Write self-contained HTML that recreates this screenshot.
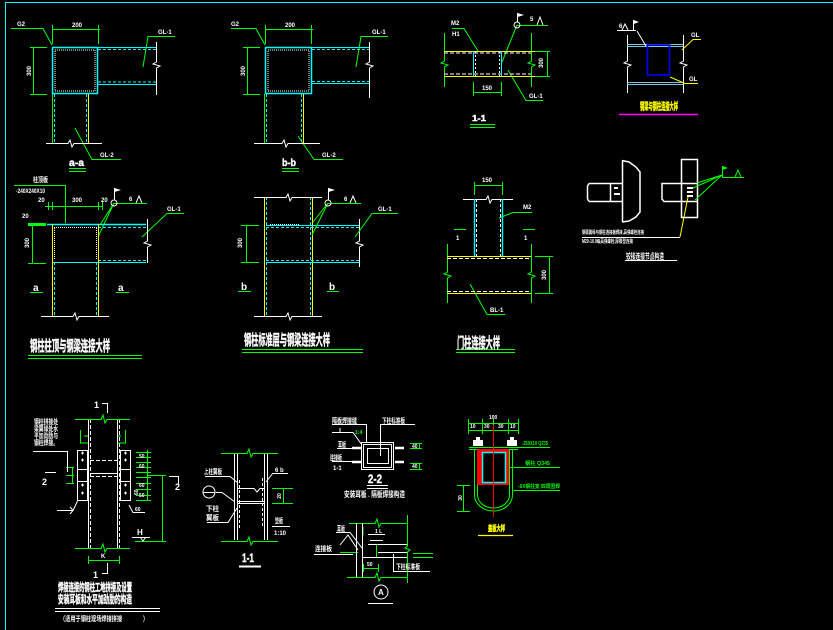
<!DOCTYPE html>
<html><head><meta charset="utf-8"><style>
html,body{margin:0;padding:0;background:#000;width:833px;height:630px;overflow:hidden}
svg{display:block}
text{font-family:"Liberation Sans","Noto Sans CJK SC",sans-serif;fill:#fff;font-weight:bold}
.g{fill:#0f0}.y{fill:#ff0}
.tt{stroke:#fff;stroke-width:0.4}
.y.tt{stroke:#ff0}
</style></head><body>
<svg width="833" height="630" viewBox="0 0 833 630" xmlns="http://www.w3.org/2000/svg">
<rect width="833" height="630" fill="#000"/>
<g fill="none" stroke-width="1">
<!-- frame -->
<path d="M5 2.5H833M5.5 2V630" stroke="#0ff"/>

<!-- ===== a-a ===== -->
<g stroke="#0f0">
<path d="M11 28.5H43L52 45"/>
<path d="M52 29.5H100M52.5 25V44M98.5 25V44"/>
<path d="M33.5 47V94M30 47.5H47M30 94.5H47"/>
<path d="M52.5 94V143"/>
<path d="M75 128L92 159.5H121"/>
<path d="M143 67L148 36.5H175"/>
<path d="M69 168.5H86M69 171.5H86"/>
</g>
<rect x="52.5" y="47.5" width="45" height="46" stroke="#0ff" stroke-width="1.5"/>
<path d="M98 47.5H156M98 84.5H156" stroke="#0ff"/>
<path d="M98 49.5H156M98 82H156M54.5 94V143M86.5 94V143" stroke="#0ff" stroke-dasharray="3 2"/>
<rect x="55" y="50" width="40" height="41" stroke="#fff" stroke-dasharray="1 1"/>
<path d="M88.5 94V143" stroke="#ff0"/>
<path d="M156.5 42V62L153 64L160 66L156.5 68V95" stroke="#fff"/>
<path d="M46 143.5H68L70 140L72 147L74 143.5H102" stroke="#fff"/>

<!-- ===== b-b ===== -->
<g stroke="#0f0">
<path d="M231 28.5H256L265 45"/>
<path d="M265 29.5H313M265.5 25V44M311.5 25V44"/>
<path d="M247.5 47V94M243 47.5H260M243 94.5H260"/>
<path d="M264.5 94V143"/>
<path d="M298 136L314 159.5H343"/>
<path d="M356 67L361 36.5H388"/>
<path d="M282 168.5H299M282 171.5H299"/>
</g>
<rect x="265.5" y="47.5" width="46" height="46" stroke="#0ff" stroke-width="1.5"/>
<path d="M312 47.5H369M312 83.5H369" stroke="#0ff"/>
<path d="M312 49.5H369M312 81.5H369M266.5 94V143M301.5 94V143" stroke="#0ff" stroke-dasharray="3 2"/>
<rect x="268" y="50" width="41" height="41" stroke="#fff" stroke-dasharray="1 1"/>
<path d="M303.5 94V143" stroke="#ff0"/>
<path d="M369.5 42V62L366 64L373 66L369.5 68V98" stroke="#fff"/>
<path d="M254 143.5H282L284 140L286 147L288 143.5H320" stroke="#fff"/>

<!-- ===== 1-1 top ===== -->
<g stroke="#0f0">
<path d="M444.5 33V61L441 63L448 65L444.5 67V87"/>
<path d="M531.5 33V61L528 63L535 65L531.5 67V87"/>
<path d="M547.5 51V76M531 51.5H550M531 76.5H550"/>
<path d="M473 92.5H501M473.5 82V96M501.5 82V96"/>
<path d="M452 28.5H464L478 51"/>
<path d="M517 25.5H548M517 25L502 62"/>
<path d="M508 70L526 100.5H543"/>
<path d="M470 124.5H495M470 127.5H495"/>
</g>
<path d="M444 51.5H535M444 76.5H535" stroke="#ff0"/>
<path d="M444 53H531M444 74H531" stroke="#fff" stroke-dasharray="4 2"/>
<path d="M473.5 51V76M501.5 51V76" stroke="#0ff"/>
<path d="M475.5 51V76M499.5 51V76" stroke="#fff" stroke-dasharray="2 2"/>
<circle cx="517" cy="25" r="3" stroke="#fff"/>
<path d="M517.5 22V13M537 25L540 17L543 25" stroke="#fff"/>
<path d="M517.5 13L524 15L517.5 17Z" fill="#fff" stroke="none"/>

<!-- ===== top right detail ===== -->
<path d="M627.5 35V61L624 63L631 65L627.5 67V93M683.5 35V61L680 63L687 65L683.5 67V93" stroke="#fff"/>
<path d="M627 44.5H683M627 46.5H683M627 82.5H683M627 84.5H683" stroke="#7ec8e3"/>
<rect x="647.5" y="45" width="22" height="30" stroke="#0000ff" stroke-width="1.6"/>
<path d="M617 30.5H636M633.5 30V20M622 30L625 24L628 30M637 31L646 46" stroke="#fff"/>
<path d="M633.5 20L639 22L633.5 24Z" fill="#fff" stroke="none"/>
<path d="M682 50L693 39.5H701M670 77L685 83.5H698" stroke="#ff0"/>
<path d="M619 114.5H698" stroke="#f0f" stroke-width="1.5"/>

<!-- ===== column-plate detail ===== -->
<g stroke="#fff" stroke-width="1.5">
<path d="M589 183.5H622M589 201.5H622M587.5 186V199M589 183.5L587.5 186M589 201.5L587.5 199M610.5 183V202"/>
<path d="M622.5 160V222M622 160.5L629 162L636 167L640 172V212L636 217L629 221L622 222"/>
<rect x="681.5" y="159.5" width="16" height="58"/>
<path d="M681 183.5H662V199L664 201.5H681M681 183.5H698M681 201.5H698"/>
</g>
<path d="M687 188H693M687 192H693M687 196H693M614 188H618M614 194H620" stroke="#fff" stroke-width="2"/>
<g stroke="#0f0">
<path d="M722 175L697 183M722 175L693 188M722 175L695 200"/>
<path d="M722 177.5H744M722.5 177V166M735 177L738 170L741 177"/>
</g>
<path d="M722.5 166L728 168L722.5 170Z" fill="#0f0" stroke="none"/>
<path d="M688 197L680 237" stroke="#ff0"/>
<path d="M582 237.5H680M625 260.5H677" stroke="#fff"/>

<!-- ===== left middle (柱顶) ===== -->
<g stroke="#0f0">
<path d="M14 185.5H65.5V223"/>
<path d="M28 224.5H46" stroke-width="3"/>
<path d="M45 206.5H102M48.5 202V210M52.5 202V210M98.5 202V210M102.5 202V210"/>
<path d="M114 203.5H147M114 203L100 225M114 203L98 237"/>
<path d="M32.5 224V263M28 263.5H46"/>
<path d="M30 292.5H43M116 292.5H129"/>
<path d="M142 237L167 213.5H184"/>
<path d="M28 355.5H142M28 358.5H142"/>
</g>
<path d="M47 224.5H146" stroke="#0ff" stroke-width="1.6"/>
<path d="M98 227.5H146M98 260.5H146M54.5 262V316M96.5 262V316" stroke="#0ff" stroke-dasharray="3 2"/>
<path d="M52 262.5H146" stroke="#0ff"/>
<path d="M54 227.5H97M54.5 228V260M96.5 228V260" stroke="#fff" stroke-dasharray="1 1"/>
<path d="M52.5 224V316M98.5 224V316" stroke="#ff0"/>
<path d="M147.5 219V241L144 243L151 245L147.5 247V263" stroke="#fff"/>
<path d="M41 316.5H73L75 313L77 320L79 316.5H109" stroke="#fff"/>
<circle cx="114" cy="203" r="3" stroke="#fff"/>
<path d="M114.5 200V188M136 203L139 196L142 203" stroke="#fff"/>
<path d="M114.5 188L121 190L114.5 192Z" fill="#fff" stroke="none"/>

<!-- ===== middle (标准层) ===== -->
<path d="M264.5 197V316M312.5 197V316" stroke="#ff0"/>
<path d="M266.5 197V316M310.5 197V316" stroke="#0ff" stroke-dasharray="3 2"/>
<path d="M254 197.5H286L288 194L290 201L292 197.5H322M254 316.5H286L288 313L290 320L292 316.5H322" stroke="#fff"/>
<path d="M266 225.5H359M266 262.5H359" stroke="#0ff"/>
<path d="M266 227.5H359M266 260.5H359" stroke="#0ff" stroke-dasharray="3 2"/>
<path d="M270 224.5H300" stroke="#fff" stroke-dasharray="1 1"/>
<path d="M359.5 219V241L356 243L363 245L359.5 247V267" stroke="#fff"/>
<g stroke="#0f0">
<path d="M246.5 225V262M241 225.5H259M241 262.5H259"/>
<path d="M328 203.5H361M328 203L313 222M328 203L312 235"/>
<path d="M355 237L372 213.5H398"/>
<path d="M238 291.5H251M327 291.5H339"/>
<path d="M242 349.5H363M242 352.5H363"/>
</g>
<circle cx="328" cy="203" r="3" stroke="#fff"/>
<path d="M328.5 200V188M350 203L353 196L356 203" stroke="#fff"/>
<path d="M328.5 188L335 190L328.5 192Z" fill="#fff" stroke="none"/>

<!-- ===== 门柱 ===== -->
<g stroke="#0f0">
<path d="M474 185.5H502M474.5 182V195M502.5 182V195"/>
<path d="M499 218L513 212.5H532"/>
<path d="M454 229.5H466M523 229.5H535"/>
<path d="M447.5 244V272L444 274L451 276L447.5 278V303M531.5 244V272L528 274L535 276L531.5 278V303"/>
<path d="M549.5 256V293M535 256.5H553M535 293.5H553"/>
<path d="M470 284L487 314.5H505"/>
<path d="M456 349.5H515M456 352.5H515"/>
</g>
<path d="M463 199.5H486L488 196L490 203L492 199.5H513" stroke="#fff"/>
<path d="M474.5 199V256M502.5 199V256" stroke="#0ff" stroke-width="1.4"/>
<path d="M476.5 199V256M500.5 199V256" stroke="#fff" stroke-dasharray="3 2"/>
<path d="M447 256.5H531M447 293.5H531" stroke="#ff0"/>
<path d="M447 258.5H531M447 291.5H531" stroke="#fff" stroke-dasharray="4 2"/>

<!-- ===== bottom-left splice ===== -->
<path d="M88.5 419V548M117.5 419V548" stroke="#fff"/>
<path d="M90.5 419V548M119.5 419V548" stroke="#fff" stroke-dasharray="4 2"/>
<g stroke="#0f0">
<path d="M75 419.5H101L103 415L105 423L107 419.5H130M75 548.5H101L103 544L105 552L107 548.5H130"/>
<path d="M80.5 430V443H88M84 436H88M125.5 430V443H118M121 436H118"/>
<path d="M147.5 450V500"/>
<path d="M136 452.5H151M136 457.5H151M136 462.5H151M136 467.5H151M136 472.5H151M136 477.5H151M136 483.5H151M136 489.5H151M136 495.5H151M136 500.5H151"/>
<path d="M162.5 475V541M147 475.5H166M135 541.5H166"/>
<path d="M66 467.5H74M66 475.5H74M66 483.5H74M72.5 467V484"/>
<path d="M88 560.5H119M88.5 556V564M119.5 556V564"/>
</g>
<rect x="77.5" y="450.5" width="10" height="50" stroke="#fff"/>
<rect x="120.5" y="450.5" width="10" height="50" stroke="#fff"/>
<path d="M77 469.5H88M77 481.5H88M120 469.5H131M120 481.5H131" stroke="#fff"/>
<path d="M81 453H84M82.5 451.5V454.5M81 460H84M82.5 458.5V461.5M81 485H84M82.5 483.5V486.5M81 493H84M82.5 491.5V494.5M124 453H127M125.5 451.5V454.5M124 460H127M125.5 458.5V461.5M124 485H127M125.5 483.5V486.5M124 493H127M125.5 491.5V494.5" stroke="#fff"/>
<path d="M90 460.5H117M90 476.5H117" stroke="#fff" stroke-dasharray="4 2"/>
<path d="M90 473.5H117" stroke="#fff"/>
<path d="M102 403.5H107.5V413M107.5 563V573.5H102" stroke="#fff"/>
<path d="M33 451.5H67.5V472M45 472.5H56M169 476.5H178.5V485" stroke="#fff"/>
<path d="M132 537.5H150M140 537L143 541L146 537" stroke="#fff"/>
<path d="M57 510.5H73L78 500M70 507L73 510.5L70 514" stroke="#fff"/>
<path d="M129 505L133 512.5H145" stroke="#fff"/>
<path d="M55 608.5H160M55 611.5H160" stroke="#fff"/>

<!-- ===== 1-1 bottom ===== -->
<path d="M234.5 453V540M237.5 453V540M264.5 453V540M267.5 453V540" stroke="#fff"/>
<path d="M239.5 480V530M262.5 478V528" stroke="#fff" stroke-dasharray="3 2"/>
<path d="M221 453.5H247L249 449L251 457L253 453.5H278M221 541.5H247L249 537L251 545L253 541.5H278" stroke="#0f0"/>
<path d="M237 488.5H254L257 492L260 488.5H265M237 501.5H265M237 503.5H265" stroke="#fff"/>
<path d="M205 476.5H230L238 483M216 492.5H222L235 502M207 522.5H228L237 508M273 473.5H288M273 473L266 482M272 526.5H290" stroke="#fff"/>
<circle cx="209" cy="492" r="6" stroke="#fff"/>
<path d="M203 492.5H215" stroke="#fff"/>
<path d="M272 488.5H293M272 503.5H293M283.5 488V504" stroke="#0f0"/>
<path d="M239 566.5H261" stroke="#fff" stroke-width="2"/>

<!-- ===== 2-2 ===== -->
<rect x="361.5" y="442.5" width="32" height="27" stroke="#fff"/>
<rect x="363.5" y="444.5" width="28" height="23" stroke="#fff"/>
<rect x="367.5" y="448.5" width="21" height="15" stroke="#fff"/>
<path d="M332 424.5H366.5V442M380 424.5H415M380.5 424V456" stroke="#fff"/>
<path d="M332 432.5H353L362 445M340 432V428" stroke="#fff"/>
<path d="M352 448H361M352 462H361M395 448H404M395 462H404" stroke="#fff" stroke-width="2.5"/>
<path d="M337 448.5H352M332 461.5H352" stroke="#fff"/>
<path d="M410 443.5H422M410 448.5H422M419.5 443V449M410 463.5H422M410 469.5H422M419.5 463V470" stroke="#0f0"/>
<path d="M367 485.5H388M367 488.5H388" stroke="#fff"/>

<!-- ===== A detail ===== -->
<g stroke="#0f0">
<path d="M407.5 515V546L405 548L410 550L407.5 552V583"/>
<path d="M349 523.5H375L377 519L379 527L381 523.5H407M347 577.5H375L377 573L379 581L381 577.5H407"/>
<path d="M376.5 544V557M368 544.5H376"/>
<path d="M363 568.5H378M363.5 564V572M378.5 564V572"/>
<path d="M413 553.5H433M413 557.5H433M340 552.5H358"/>
<path d="M363 527V535"/>
</g>
<path d="M356.5 523V577M362.5 523V577" stroke="#fff"/>
<path d="M368 544.5H407M378 552.5H407M362 557.5H407M393.5 554V571.5H430" stroke="#fff"/>
<path d="M368 534.5H385M370 540.5H383M336 532.5H350L362 548M340 545L348 535L358 550M314 554.5H353" stroke="#fff"/>
<circle cx="381" cy="592" r="7" stroke="#fff"/>
<path d="M368 603.5H393" stroke="#fff"/>

<!-- ===== 盖板 ===== -->
<g stroke="#0f0">
<path d="M468 423.5H519M468 430.5H519M468.5 419V434M482.5 419V434M493.5 419V434M508.5 419V434M518.5 419V434"/>
<path d="M469 447.5H518M469 449.5H518"/>
<path d="M474.5 449V495A19 16 0 0 0 512.5 495V449"/>
<path d="M477.5 449V495A16 13 0 0 0 509.5 495V449"/>
<path d="M463.5 485V512M457 485.5H470M457 511.5H470"/>
<path d="M518 447.5H550M510 467.5H560M513 490.5H560"/>
</g>
<rect x="477" y="449" width="32" height="36" fill="#f00" stroke="none"/>
<rect x="482.5" y="452.5" width="23" height="30" fill="#000" stroke="#0ff" stroke-width="1.5"/>
<path d="M493.5 425V517" stroke="#f00"/>
<path d="M473 446V440H476V437H480V440H483V446ZM507 446V440H510V437H514V440H517V446Z" fill="#fff" stroke="none"/>
<path d="M478 535.5H513" stroke="#ff0" stroke-width="1.3"/>
</g>

<!-- ===== TEXT ===== -->
<g font-size="6">
<text x="17" y="26">G2</text><text x="72" y="27">200</text>
<text transform="translate(31,71) rotate(-90)" text-anchor="middle">300</text>
<text x="100" y="157">GL-2</text><text x="158" y="34">GL-1</text>
<text x="231" y="26">G2</text><text x="285" y="27">200</text>
<text transform="translate(245,71) rotate(-90)" text-anchor="middle">300</text>
<text x="322" y="157">GL-2</text><text x="372" y="34">GL-1</text>
<text x="451" y="25">M2</text><text x="452" y="36">H1</text>
<text x="530" y="21">5</text>
<text transform="translate(543,63) rotate(-90)" text-anchor="middle">300</text>
<text x="482" y="90">150</text><text x="529" y="98">GL-1</text>
<text x="619" y="28">6</text>
<text x="691" y="37">GL</text><text x="689" y="81">GL</text>
<text x="33" y="182" font-size="7" textLength="15" lengthAdjust="spacingAndGlyphs">柱顶板</text>
<text x="16" y="193" textLength="29" lengthAdjust="spacingAndGlyphs">-240X240X10</text>
<text x="22" y="218">20</text><text x="38" y="202">20</text><text x="72" y="202">300</text><text x="101" y="202">20</text>
<text x="129" y="201">6</text><text x="167" y="211">GL-1</text>
<text transform="translate(29,243) rotate(-90)" text-anchor="middle">300</text>
<text transform="translate(242,243) rotate(-90)" text-anchor="middle">300</text>
<text x="344" y="201">6</text><text x="378" y="211">GL-1</text>
<text x="482" y="182">150</text><text x="523" y="209">M2</text>
<text x="456" y="240">1</text><text x="524" y="240">1</text>
<text transform="translate(546,275) rotate(-90)" text-anchor="middle">300</text>
<text x="490" y="312">BL-1</text>
</g>
<text x="33" y="291" font-size="10">a</text><text x="118" y="291" font-size="10">a</text>
<text x="241" y="290" font-size="10">b</text><text x="329" y="290" font-size="10">b</text>
<text class="tt" x="69" y="166" font-size="10" textLength="15" lengthAdjust="spacingAndGlyphs">a-a</text>
<text class="tt" x="282" y="166" font-size="10" textLength="14" lengthAdjust="spacingAndGlyphs">b-b</text>
<text class="tt" x="472" y="121" font-size="8" textLength="14" lengthAdjust="spacingAndGlyphs">1-1</text>
<text class="y tt" x="640" y="110" font-size="10" textLength="38" lengthAdjust="spacingAndGlyphs">钢梁与钢柱连接大样</text>
<text x="582" y="234" font-size="5" textLength="62" lengthAdjust="spacingAndGlyphs">钢梁翼缘与钢柱连接板焊接,高强螺栓连接</text>
<text x="582" y="243" font-size="5" textLength="51" lengthAdjust="spacingAndGlyphs">M20-10.9级高强螺栓,摩擦型连接</text>
<text x="626" y="259" font-size="8" textLength="38" lengthAdjust="spacingAndGlyphs">铰接连接节点构造</text>
<text class="tt" x="30" y="351" font-size="15" textLength="80" lengthAdjust="spacingAndGlyphs">钢柱柱顶与钢梁连接大样</text>
<text class="tt" x="244" y="345" font-size="15" textLength="86" lengthAdjust="spacingAndGlyphs">钢柱标准层与钢梁连接大样</text>
<text class="tt" x="457" y="348" font-size="15" textLength="43" lengthAdjust="spacingAndGlyphs">门柱连接大样</text>

<g font-size="7">
<text x="34" y="424" textLength="24" lengthAdjust="spacingAndGlyphs">钢柱拼接处</text>
<text x="34" y="431" textLength="24" lengthAdjust="spacingAndGlyphs">梁翼缘处水</text>
<text x="34" y="438" textLength="24" lengthAdjust="spacingAndGlyphs">平加劲肋与</text>
<text x="34" y="445" textLength="24" lengthAdjust="spacingAndGlyphs">钢柱焊接。</text>
<text x="94" y="408" font-size="9">1</text><text x="93" y="578" font-size="9">1</text>
<text x="42" y="485" font-size="9">2</text><text x="175" y="490" font-size="9">2</text>
<text x="137" y="535" font-size="8">H</text><text x="101" y="558" font-size="6">K</text>
<text x="135" y="511" font-size="5">60</text>
<text x="139" y="458" font-size="5">50</text><text x="139" y="468" font-size="5">60</text><text x="139" y="487" font-size="5">60</text><text x="139" y="497" font-size="5">50</text>
<text transform="translate(138,495) rotate(-90)" font-size="5">60</text>
<text class="tt" x="58" y="591" font-size="11" textLength="74" lengthAdjust="spacingAndGlyphs">焊接连接的钢柱工地拼接及设置</text>
<text class="tt" x="58" y="603" font-size="11" textLength="74" lengthAdjust="spacingAndGlyphs">安装耳板和水平加劲肋的构造</text>
<text x="60" y="621" font-size="7" textLength="88" lengthAdjust="spacingAndGlyphs">（适用于钢柱现场焊接拼接　　　　）</text>

<text x="204" y="474" textLength="18" lengthAdjust="spacingAndGlyphs">上柱翼板</text>
<text x="206" y="511" textLength="13" lengthAdjust="spacingAndGlyphs">下柱</text>
<text x="206" y="520" textLength="13" lengthAdjust="spacingAndGlyphs">翼板</text>
<text x="275" y="472" font-size="6">6 b</text>
<text transform="translate(281,496) rotate(-90)" text-anchor="middle" font-size="5">20</text>
<text x="275" y="523" textLength="8" lengthAdjust="spacingAndGlyphs">垫板</text>
<text x="274" y="535" font-size="6">1:10</text>
<text class="tt" x="242" y="562" font-size="12" textLength="12" lengthAdjust="spacingAndGlyphs">1-1</text>

<text x="332" y="423" textLength="25" lengthAdjust="spacingAndGlyphs">隔板焊接缝</text>
<text x="382" y="423" textLength="23" lengthAdjust="spacingAndGlyphs">下柱标准板</text>
<text class="g" x="355" y="434" font-size="5">1:4</text>
<text x="338" y="447" textLength="8" lengthAdjust="spacingAndGlyphs">耳板</text>
<text x="330" y="460" textLength="12" lengthAdjust="spacingAndGlyphs">连接板</text>
<text x="333" y="470" font-size="6">1-1</text>
<text x="412" y="448" font-size="5">40</text><text x="412" y="468" font-size="5">40</text>
<text class="tt" x="368" y="483" font-size="12" textLength="14" lengthAdjust="spacingAndGlyphs">2-2</text>
<text x="344" y="497" font-size="8" textLength="61" lengthAdjust="spacingAndGlyphs">安装耳板 . 隔板焊接构造</text>

<text x="337" y="531" textLength="8" lengthAdjust="spacingAndGlyphs">耳板</text>
<text x="315" y="551" textLength="17" lengthAdjust="spacingAndGlyphs">连接板</text>
<text x="375" y="533" font-size="5">1 L</text>
<text x="367" y="566" font-size="5">50</text>
<text x="396" y="569" textLength="24" lengthAdjust="spacingAndGlyphs">下柱标准板</text>
<text x="378" y="595" font-size="8">A</text>

<text x="489" y="419" font-size="5">100</text>
<text x="470" y="428" font-size="5">10</text><text x="484" y="428" font-size="5">30</text><text x="498" y="428" font-size="5">30</text><text x="510" y="428" font-size="5">10</text>
<text class="g" x="522" y="445" font-size="5" textLength="26" lengthAdjust="spacingAndGlyphs">-250X10 Q235</text>
<text class="g" x="525" y="465" font-size="5" textLength="25" lengthAdjust="spacingAndGlyphs">钢柱 Q345</text>
<text class="g" x="518" y="488" font-size="5" textLength="42" lengthAdjust="spacingAndGlyphs">-6X钢柱宽 四周围焊</text>
<text transform="translate(462,498) rotate(-90)" text-anchor="middle" font-size="5">30</text>
<text class="y tt" x="488" y="531" font-size="8" textLength="17" lengthAdjust="spacingAndGlyphs">盖板大样</text>
</g>
</svg>
</body></html>
